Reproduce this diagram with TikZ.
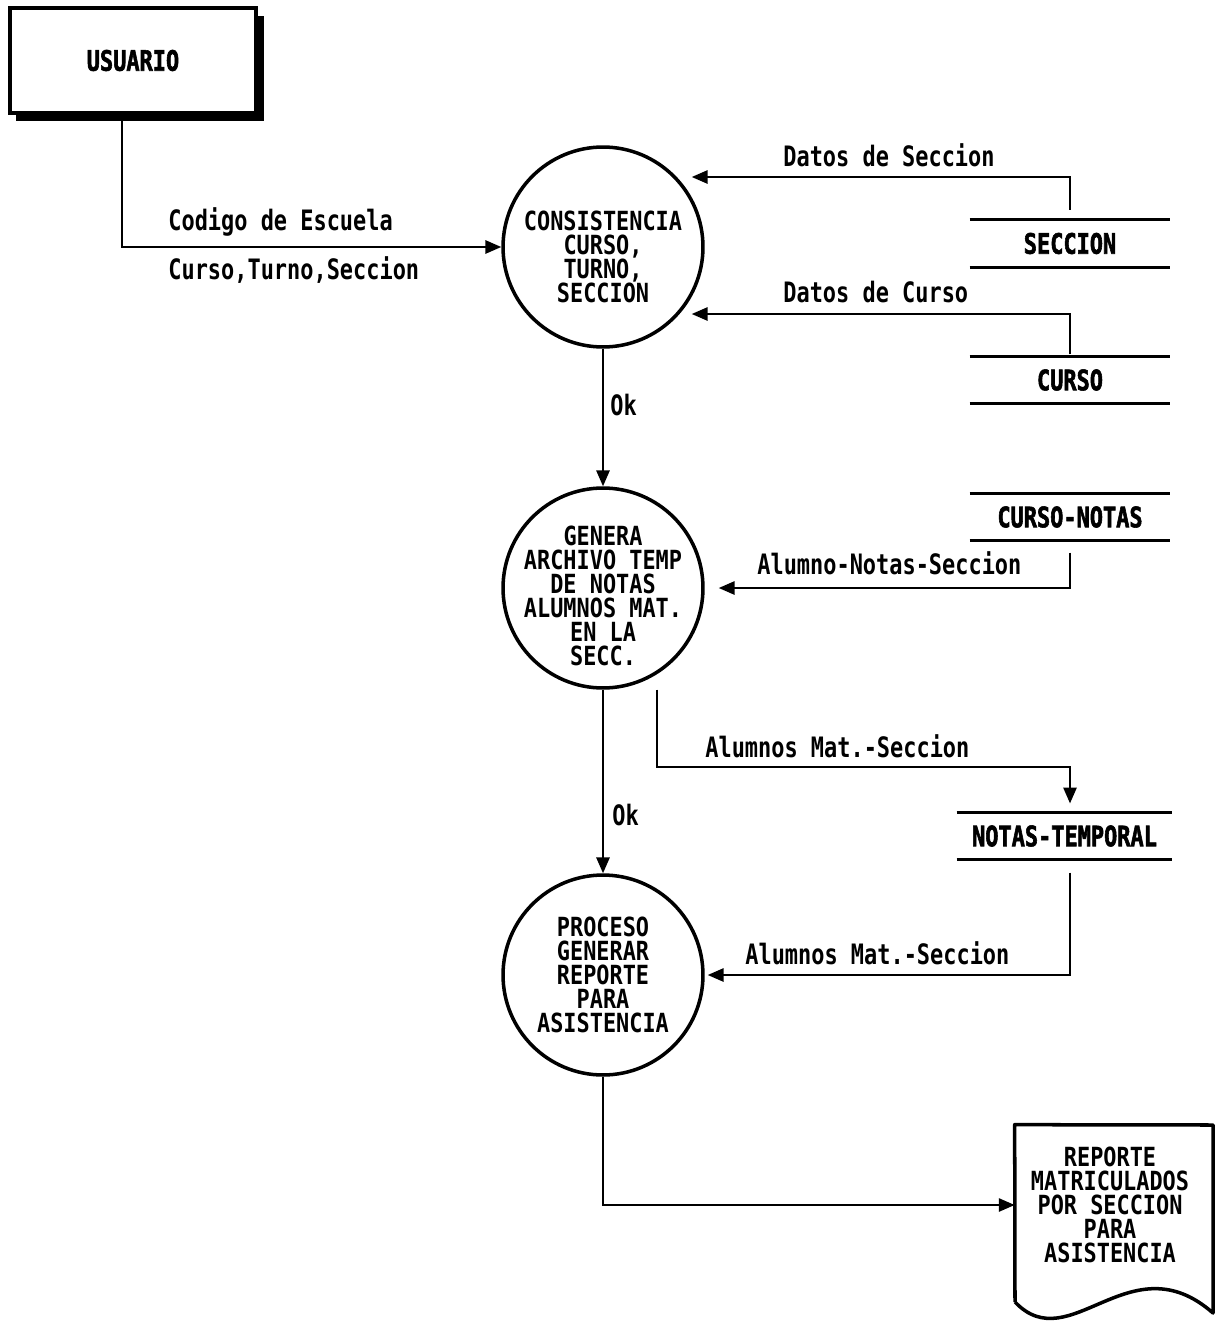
\documentclass[tikz,border=0pt]{standalone}
\usepackage{fontspec}
\usetikzlibrary{arrows.meta,calc}
% condensed plotter-style lettering
\newfontfamily\plotfont[FakeStretch=0.78]{DejaVu Sans Mono}
\newfontfamily\plotnarrow[FakeStretch=0.83]{DejaVu Sans Mono}
\newfontfamily\plotheavy[FakeStretch=0.78,FakeBold=2]{DejaVu Sans Mono}
\newcommand\dfdtext{\plotfont\bfseries\fontsize{16}{12.75}\selectfont}
\newcommand\dfdblock{\plotnarrow\bfseries\fontsize{15}{13.6}\selectfont}
\newcommand\dfdheavy{\plotheavy\bfseries\fontsize{16}{12.75}\selectfont}
\begin{document}
\begin{tikzpicture}[x=0.02cm,y=-0.02cm,
  flow/.style={line width=1.2pt,-{Triangle[length=9pt,width=7.5pt]}},
  proc/.style={circle,draw,line width=2pt,minimum size=4cm,inner sep=0pt},
  proctext/.style={align=center,font=\dfdblock,inner sep=0pt},
  store/.style={minimum width=4cm,minimum height=0.93cm,inner sep=0pt,
    font=\dfdheavy},
  storeline/.style={line width=1.8pt},
  lab/.style={anchor=west,inner sep=0pt,font=\dfdtext}]
\useasboundingbox (0,0) rectangle (1215,1328);

% external entity with drop shadow
\fill (16,16) rectangle (264,121);
\node[draw,fill=white,line width=2.3pt,minimum width=4.92cm,minimum height=2.1cm,
  font=\dfdheavy] (usr) at (133,60.5) {USUARIO};

% processes
\node[proc,label={[proctext,yshift=-0.2cm]center:CONSISTENCIA\\CURSO,\\TURNO,\\SECCION}]
  (c1) at (603,247) {};
\node[proc,label={[proctext,yshift=-0.16cm]center:GENERA\\ARCHIVO TEMP\\DE NOTAS\\ALUMNOS MAT.\\EN LA\\SECC.}]
  (c2) at (603,588) {};
\node[proc,label={[proctext]center:PROCESO\\GENERAR\\REPORTE\\PARA\\ASISTENCIA}]
  (c3) at (603,975) {};

% data stores
\node[store] (sec) at (1070,243.5) {SECCION};
\node[store] (cur) at (1070,380) {CURSO};
\node[store] (cn)  at (1070,517) {CURSO-NOTAS};
\node[store,minimum width=4.3cm] (nt) at (1064.5,836) {NOTAS-TEMPORAL};
\foreach \s in {sec,cur,cn,nt}
  \draw[storeline] (\s.north west) -- (\s.north east)
                   (\s.south west) -- (\s.south east);

% printed report
\node[minimum width=3.8cm,minimum height=3.2cm,inner sep=0pt,align=center,
  font=\dfdblock] (rep) at (1110,1205)
  {REPORTE\\MATRICULADOS\\POR SECCION\\PARA\\ASISTENCIA};
\draw[line width=2pt,line join=round]
  (1015,1302) -- (rep.north west) -- (1213,1125) -- (1213,1313)
  .. controls (1130,1240) and (1070,1360) .. (1015,1302);

% data flows
\draw[flow] ($(usr.south)+(-11,0)$) |- (c1.west);
\node[lab] at (168,222) {Codigo de Escuela};
\node[lab] at (168,270) {Curso,Turno,Seccion};

\draw[flow] ($(sec.north)+(0,-10)$) |- ($(c1.east)+(-13,-70)$);
\node[lab] at (783,155) {Datos de Seccion};

\draw[flow] ($(cur.north)+(0,-2)$) |- ($(c1.east)+(-13,67)$);
\node[lab] at (783,292) {Datos de Curso};

\draw[flow] (c1.south) -- (c2.north);
\node[lab] at (610,405) {Ok};

\draw[flow] ($(cn.south)+(0,12)$) |- ($(c2.east)+(14,0)$);
\node[lab] at (757,563) {Alumno-Notas-Seccion};

\coordinate (bend) at ($(nt.north)+(5.5,-45)$);
\draw[flow] ($(c2.south)+(54,0)$) |- (bend) -- ($(nt.north)+(5.5,-9)$);
\node[lab] at (705,746) {Alumnos Mat.-Seccion};

\draw[flow] (c2.south) -- (c3.north);
\node[lab] at (612,815) {Ok};

\draw[flow] ($(nt.south)+(5.5,13)$) |- ($(c3.east)+(3,0)$);
\node[lab] at (745,953) {Alumnos Mat.-Seccion};

\draw[flow] (c3.south) |- (rep.west);
\end{tikzpicture}
\end{document}
